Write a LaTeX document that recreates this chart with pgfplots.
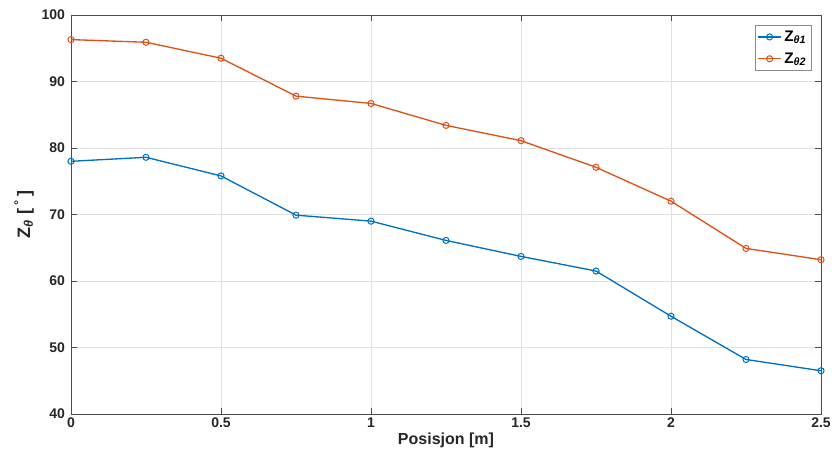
\documentclass[border=0pt]{standalone}
\usepackage{fontspec}
\setmainfont{Liberation Sans}
\usepackage{pgfplots}
\pgfplotsset{compat=1.18}
\definecolor{mblue}{RGB}{0,114,189}
\definecolor{morange}{RGB}{217,83,25}
\begin{document}
\begin{tikzpicture}
\begin{axis}[
  name=ax,
  scale only axis,
  width=562.5pt, height=299.25pt,
  xmin=0, xmax=2.5, ymin=40, ymax=100,
  xtick={0,0.5,1,1.5,2,2.5},
  xticklabels={0,0.5,1,1.5,2,2.5},
  ytick={40,50,60,70,80,90,100},
  yticklabels={40,50,60,70,80,90,100},
  tick align=inside,
  major tick length=4.5pt,
  tick style={color=black!70, line width=0.5pt},
  axis line style={black!70, line width=0.6pt},
  grid=major,
  grid style={black!12, line width=0.5pt},
  ticklabel style={font=\bfseries\fontsize{10.5}{12}\selectfont, text=black!85},
  xticklabel style={yshift=1pt},
  yticklabel style={xshift=-1pt},
  xlabel={\bfseries Posisjon [m]},
  ylabel={\bfseries Z\textsubscript{\itshape θ} [\,\textsuperscript{°}\,]},
  label style={font=\bfseries\fontsize{12}{14}\selectfont, text=black!85},
  xlabel style={yshift=3pt},
  ylabel style={yshift=-1pt, font=\bfseries\fontsize{13.5}{15}\selectfont},
  legend cell align=left,
  legend style={font=\bfseries\fontsize{11.5}{13}\selectfont, draw=black!45, line width=0.5pt, at={(0.988,0.975)}, anchor=north east, inner sep=2pt, row sep=3pt},
  every axis plot/.append style={line width=1pt, mark=o, mark size=2.3pt, mark options={solid, line width=0.75pt}},
]
\addplot[color=mblue] coordinates {
(0,78.0) (0.25,78.6) (0.5,75.8) (0.75,69.9) (1,69.0) (1.25,66.1) (1.5,63.7) (1.75,61.5) (2,54.7) (2.25,48.2) (2.5,46.5)
};
\addlegendentry{Z\textsubscript{\itshape θ1}}
\addplot[color=morange] coordinates {
(0,96.3) (0.25,95.9) (0.5,93.5) (0.75,87.8) (1,86.7) (1.25,83.4) (1.5,81.1) (1.75,77.1) (2,72.0) (2.25,64.9) (2.5,63.2)
};
\addlegendentry{Z\textsubscript{\itshape θ2}}
\end{axis}
\pgfresetboundingbox
\path (ax.south west) ++(-53.25pt,-36.75pt) coordinate (bl);
\path (ax.north east) ++(8.25pt,11.25pt) coordinate (tr);
\useasboundingbox (bl) rectangle (tr);
\end{tikzpicture}
\end{document}
